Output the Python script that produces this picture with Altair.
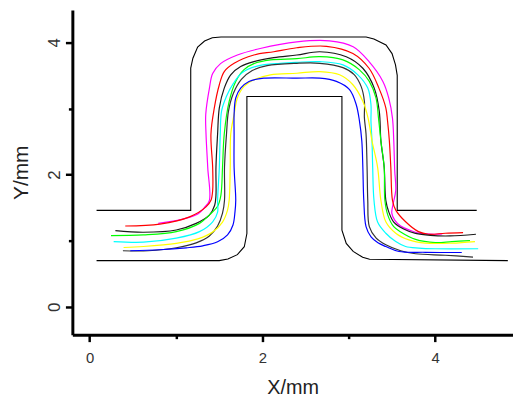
import altair as alt
import pandas as pd

# outline shapes (black)
outer_x = [0.08, 1.17, 1.17, 1.195, 1.25, 1.33, 1.42, 1.52, 3.20, 3.29, 3.43, 3.50, 3.54, 3.56, 3.56, 4.48]
outer_y = [1.46, 1.46, 3.61, 3.76, 3.93, 4.02, 4.07, 4.08, 4.08, 4.05, 3.96, 3.83, 3.66, 3.50, 1.46, 1.46]
inner_x = [0.08, 1.50, 1.60, 1.71, 1.79, 1.82, 1.82, 2.92, 2.92, 2.97, 3.05, 3.16, 3.24, 4.84]
inner_y = [0.70, 0.70, 0.725, 0.79, 0.91, 1.11, 3.18, 3.18, 1.16, 0.96, 0.84, 0.75, 0.72, 0.70]

magenta_x = [0.794, 1.080, 1.252, 1.332, 1.386, 1.367, 1.347, 1.344, 1.386, 1.424, 1.515, 1.710, 1.974, 2.398, 2.776,
             3.050, 3.234, 3.394, 3.463, 3.505, 3.520, 3.531, 3.543, 3.509, 3.497, 3.531, 3.600, 3.714, 3.829, 4.001, 4.081]
magenta_y = [1.263, 1.328, 1.403, 1.507, 1.612, 2.106, 2.615, 2.915, 3.304, 3.529, 3.678, 3.808, 3.907, 4.007, 4.022,
             3.933, 3.708, 3.409, 3.154, 2.855, 2.510, 2.061, 1.762, 1.537, 1.418, 1.313, 1.223, 1.156, 1.111, 1.099, 1.103]

red_x = [0.412, 0.813, 1.157, 1.347, 1.404, 1.424, 1.424, 1.404, 1.443, 1.501, 1.558, 1.672, 1.901, 2.131, 2.398,
         2.741, 3.047, 3.234, 3.348, 3.428, 3.448, 3.469, 3.486, 3.505, 3.543, 3.657, 3.806, 3.921, 4.116, 4.322]
red_y = [1.223, 1.253, 1.362, 1.512, 1.612, 1.762, 2.106, 2.615, 3.009, 3.359, 3.558, 3.683, 3.808, 3.858, 3.918,
         3.940, 3.832, 3.608, 3.308, 3.009, 2.810, 2.510, 2.106, 1.612, 1.463, 1.287, 1.138, 1.099, 1.114, 1.123]

dark1_x = [0.298, 0.622, 1.003, 1.233, 1.386, 1.447, 1.462, 1.462, 1.481, 1.501, 1.558, 1.633, 1.748, 1.901, 2.131,
           2.398, 2.664, 2.970, 3.162, 3.294, 3.352, 3.371, 3.409, 3.428, 3.463, 3.520, 3.635, 3.772, 3.944, 4.173, 4.471]
dark1_y = [1.153, 1.129, 1.163, 1.263, 1.388, 1.537, 1.687, 2.111, 2.615, 3.009, 3.308, 3.509, 3.633, 3.708, 3.768,
           3.808, 3.858, 3.783, 3.608, 3.308, 2.960, 2.510, 2.111, 1.612, 1.433, 1.283, 1.178, 1.111, 1.081, 1.073, 1.099]

green_x = [0.247, 0.622, 1.003, 1.271, 1.404, 1.481, 1.519, 1.538, 1.558, 1.615, 1.691, 1.787, 1.901, 2.092, 2.398,
           2.664, 2.932, 3.123, 3.237, 3.314, 3.343, 3.371, 3.409, 3.417, 3.451, 3.520, 3.600, 3.772, 4.001, 4.192, 4.402]
green_y = [1.078, 1.088, 1.138, 1.263, 1.413, 1.522, 1.687, 2.111, 2.615, 3.109, 3.409, 3.588, 3.678, 3.734, 3.753,
           3.783, 3.734, 3.584, 3.409, 3.159, 2.859, 2.510, 2.111, 1.612, 1.388, 1.213, 1.134, 1.021, 0.973, 0.988, 1.003]

cyan_x = [0.278, 0.622, 1.003, 1.271, 1.424, 1.481, 1.481, 1.501, 1.512, 1.527, 1.584, 1.664, 1.768, 1.939, 2.206,
          2.398, 2.664, 2.932, 3.104, 3.219, 3.256, 3.256, 3.268, 3.276, 3.291, 3.333, 3.428, 3.543, 3.657, 3.810, 4.001, 4.497]
cyan_y = [0.988, 0.979, 1.039, 1.138, 1.287, 1.433, 1.612, 2.111, 2.615, 2.960, 3.184, 3.379, 3.543, 3.641, 3.683,
          3.698, 3.708, 3.659, 3.509, 3.308, 3.060, 2.810, 2.510, 2.111, 1.612, 1.283, 1.114, 0.988, 0.913, 0.889, 0.879, 0.879]

dark2_x = [0.385, 0.679, 1.003, 1.233, 1.386, 1.481, 1.538, 1.561, 1.561, 1.584, 1.607, 1.664, 1.756, 1.882, 2.054,
           2.398, 2.664, 2.932, 3.062, 3.142, 3.180, 3.180, 3.199, 3.211, 3.219, 3.237, 3.314, 3.428, 3.600, 3.772, 4.116, 4.437]
dark2_y = [0.849, 0.849, 0.894, 0.969, 1.073, 1.223, 1.418, 1.612, 2.111, 2.615, 2.960, 3.229, 3.439, 3.573, 3.648,
           3.683, 3.683, 3.618, 3.513, 3.334, 3.109, 2.859, 2.615, 2.111, 1.612, 1.213, 1.043, 0.939, 0.849, 0.804, 0.781, 0.754]

yellow_x = [0.393, 0.622, 1.003, 1.252, 1.424, 1.538, 1.596, 1.615, 1.627, 1.633, 1.672, 1.710, 1.787, 1.901, 2.092,
            2.398, 2.664, 2.893, 3.047, 3.162, 3.222, 3.268, 3.333, 3.371, 3.428, 3.543, 3.695, 3.887, 4.192, 4.460]
yellow_y = [0.898, 0.913, 0.961, 1.028, 1.133, 1.283, 1.463, 1.612, 2.111, 2.615, 2.910, 3.159, 3.334, 3.434, 3.509,
            3.533, 3.558, 3.509, 3.359, 3.109, 2.859, 2.510, 2.111, 1.612, 1.287, 1.114, 1.013, 0.964, 0.964, 0.988]

blue_x = [0.470, 0.813, 1.118, 1.309, 1.481, 1.596, 1.659, 1.682, 1.691, 1.672, 1.672, 1.672, 1.691, 1.748, 1.844,
          2.016, 2.398, 2.664, 2.856, 3.008, 3.085, 3.123, 3.150, 3.162, 3.173, 3.199, 3.257, 3.337, 3.428, 3.581, 3.887, 4.307]
blue_y = [0.849, 0.864, 0.894, 0.924, 0.984, 1.088, 1.238, 1.433, 1.612, 2.111, 2.615, 2.910, 3.159, 3.308, 3.409,
          3.458, 3.458, 3.458, 3.409, 3.284, 3.060, 2.810, 2.510, 2.111, 1.612, 1.213, 1.058, 0.969, 0.913, 0.838, 0.826, 0.823]

outlines = [("outer", outer_x, outer_y), ("inner", inner_x, inner_y)]
curves = [
    ("magenta", magenta_x, magenta_y, "#ff00ff"),
    ("red", red_x, red_y, "#ff0000"),
    ("dark1", dark1_x, dark1_y, "#1a1a1a"),
    ("green", green_x, green_y, "#00ff00"),
    ("cyan", cyan_x, cyan_y, "#00ffff"),
    ("dark2", dark2_x, dark2_y, "#333333"),
    ("yellow", yellow_x, yellow_y, "#ffff00"),
    ("blue", blue_x, blue_y, "#0000ff"),
]


def frame(items):
    rows = []
    for it in items:
        name, xs, ys = it[0], it[1], it[2]
        for i, (xv, yv) in enumerate(zip(xs, ys)):
            rows.append({"x": xv, "y": yv, "s": name, "i": i})
    return pd.DataFrame(rows)


W, H = 445, 328
font = "Liberation Sans"

x_enc = alt.X("x:Q",
              scale=alt.Scale(domain=[-0.2, 4.9], nice=False, zero=False),
              axis=alt.Axis(values=[0, 1, 2, 3, 4], title="X/mm", grid=False, format="d",
                            labelExpr="datum.value % 2 === 0 ? datum.label : ''",
                            tickSize={"condition": {"test": "datum.value % 2 === 1", "value": 4}, "value": 7},
                            tickWidth=2.5, tickColor="black", domainColor="black", domainWidth=3,
                            labelFont=font, labelFontSize=15, labelColor="#333333",
                            labelBaseline="alphabetic", labelPadding=21,
                            titleFont=font, titleFontSize=20, titleFontWeight="normal", titleColor="#222222",
                            titleX=W / 2, titleY=59, titleBaseline="alphabetic", titleAlign="center"))
y_enc = alt.Y("y:Q",
              scale=alt.Scale(domain=[-0.42, 4.49], nice=False, zero=False),
              axis=alt.Axis(values=[0, 1, 2, 3, 4], title="Y/mm", grid=False, format="d",
                            labelExpr="datum.value % 2 === 0 ? datum.label : ''",
                            tickSize={"condition": {"test": "datum.value % 2 === 1", "value": 4}, "value": 7},
                            tickWidth=2.5, tickColor="black", domainColor="black", domainWidth=3,
                            labelFont=font, labelFontSize=17, labelColor="#333333",
                            labelAngle=270, labelAlign="center", labelBaseline="alphabetic", labelPadding=6,
                            titleFont=font, titleFontSize=21, titleFontWeight="normal", titleColor="#222222",
                            titleAngle=270, titleX=-45, titleY=H / 2, titleBaseline="alphabetic", titleAlign="center"))

outline_layer = alt.Chart(frame(outlines)).mark_line(strokeWidth=1.1, color="black").encode(
    x=x_enc, y=y_enc, detail="s:N", order="i:Q"
)

curve_layer = alt.Chart(frame(curves)).mark_line(strokeWidth=1.2, interpolate="catmull-rom").encode(
    x="x:Q", y="y:Q",
    color=alt.Color("s:N", scale=alt.Scale(domain=[c[0] for c in curves], range=[c[3] for c in curves]), legend=None),
    order="i:Q",
)

chart = alt.layer(outline_layer, curve_layer).properties(
    width=W, height=H,
    autosize=alt.AutoSizeParams(type="none"),
    padding={"left": 65, "top": 0, "right": 0, "bottom": 64},
).configure_view(stroke=None)

chart.save("out.html", embed_options={"renderer": "svg", "actions": False})
